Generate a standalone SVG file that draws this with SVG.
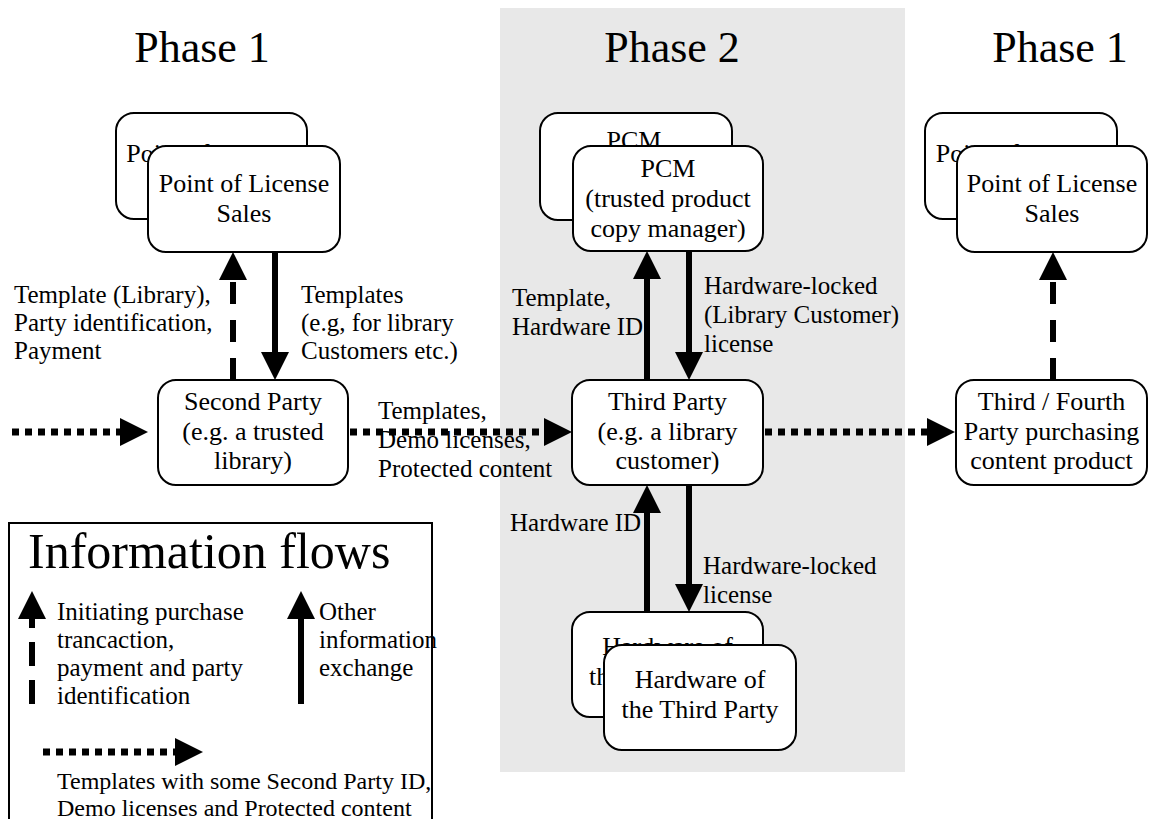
<svg xmlns="http://www.w3.org/2000/svg" width="1149" height="819" viewBox="0 0 1149 819" font-family="'Liberation Serif','Times New Roman',serif">
<style>
text{font-family:"Liberation Serif","Times New Roman",serif;fill:#000}
.t{font-size:44px}
.n{font-size:26px;text-anchor:middle}
.l{font-size:25px}
.s{font-size:24px}
.box{fill:#fff;stroke:#000;stroke-width:2}
.solid{stroke:#000;stroke-width:6;fill:none}
.dash{stroke:#000;stroke-width:6;fill:none;stroke-dasharray:22 16}
.dot{stroke:#000;stroke-width:7;fill:none;stroke-dasharray:7 6}
</style>
<defs>
<marker id="ah" markerUnits="userSpaceOnUse" markerWidth="28" markerHeight="28" viewBox="0 0 28 28" refX="1" refY="14" orient="auto">
<path d="M0,0 L28,14 L0,28 Z" fill="#000"/>
</marker>
</defs>
<rect id="phase2-bg" x="500" y="8" width="405" height="764" fill="#e8e8e8"/>
<g id="titles">
<text class="t" x="202" y="62" text-anchor="middle">Phase 1</text>
<text class="t" x="672" y="62" text-anchor="middle">Phase 2</text>
<text class="t" x="1060" y="62" text-anchor="middle">Phase 1</text>
</g>
<g id="pols-left">
<rect class="box" x="116" y="113" width="191" height="106" rx="18"/>
<text class="n" x="211.5" y="162">Point of License</text>
<text class="n" x="211.5" y="192">Sales</text>
<rect class="box" x="148" y="146" width="192" height="106" rx="18"/>
<text class="n" x="244" y="192">Point of License</text>
<text class="n" x="244" y="222">Sales</text>
</g>
<g id="pcm">
<rect class="box" x="540" y="113" width="192" height="107" rx="18"/>
<text class="n" x="634" y="149">PCM</text>
<rect class="box" x="573" y="146" width="190" height="105" rx="18"/>
<text class="n" x="668" y="177">PCM</text>
<text class="n" x="668" y="207">(trusted product</text>
<text class="n" x="668" y="237">copy manager)</text>
</g>
<g id="pols-right">
<rect class="box" x="925" y="113" width="192" height="106" rx="18"/>
<text class="n" x="1021" y="162">Point of License</text>
<text class="n" x="1021" y="192">Sales</text>
<rect class="box" x="957" y="146" width="190" height="106" rx="18"/>
<text class="n" x="1052" y="192">Point of License</text>
<text class="n" x="1052" y="222">Sales</text>
</g>
<g id="second-party">
<rect class="box" x="158" y="380" width="190" height="105" rx="18"/>
<text class="n" x="253" y="410">Second Party</text>
<text class="n" x="253" y="440">(e.g. a trusted</text>
<text class="n" x="253" y="469">library)</text>
</g>
<g id="third-party">
<rect class="box" x="572" y="380" width="191" height="105" rx="18"/>
<text class="n" x="667.5" y="410">Third Party</text>
<text class="n" x="667.5" y="440">(e.g. a library</text>
<text class="n" x="667.5" y="469">customer)</text>
</g>
<g id="third-fourth-party">
<rect class="box" x="956" y="380" width="191" height="105" rx="18"/>
<text class="n" x="1051.5" y="410">Third / Fourth</text>
<text class="n" x="1051.5" y="440">Party purchasing</text>
<text class="n" x="1051.5" y="469">content product</text>
</g>
<g id="hardware">
<rect class="box" x="572" y="612" width="191" height="105" rx="18"/>
<text class="n" x="667.5" y="655">Hardware of</text>
<text class="n" x="667.5" y="685">the Third Party</text>
<rect class="box" x="604" y="645" width="192" height="105" rx="18"/>
<text class="n" x="700" y="688">Hardware of</text>
<text class="n" x="700" y="718">the Third Party</text>
</g>
<g id="connectors">
<line class="dash" x1="233" y1="380" x2="233" y2="279" marker-end="url(#ah)"/>
<line class="solid" x1="275" y1="252" x2="275" y2="353" marker-end="url(#ah)"/>
<line class="dash" x1="1053" y1="380" x2="1053" y2="279" marker-end="url(#ah)"/>
<line class="solid" x1="647" y1="380" x2="647" y2="278" marker-end="url(#ah)"/>
<line class="solid" x1="689" y1="251" x2="689" y2="353" marker-end="url(#ah)"/>
<line class="solid" x1="647" y1="612" x2="647" y2="512" marker-end="url(#ah)"/>
<line class="solid" x1="689" y1="485" x2="689" y2="585" marker-end="url(#ah)"/>
<line class="dot" x1="12" y1="432" x2="121" y2="432" marker-end="url(#ah)"/>
<line class="dot" x1="350" y1="432" x2="545" y2="432" marker-end="url(#ah)"/>
<line class="dot" x1="765" y1="432" x2="928" y2="432" marker-end="url(#ah)"/>
</g>
<g id="labels">
<text class="l" x="14" y="303">Template (Library),</text>
<text class="l" x="14" y="331">Party identification,</text>
<text class="l" x="14" y="359">Payment</text>
<text class="l" x="301" y="303">Templates</text>
<text class="l" x="301" y="331">(e.g, for library</text>
<text class="l" x="301" y="359">Customers etc.)</text>
<text class="l" x="512" y="306">Template,</text>
<text class="l" x="512" y="335">Hardware ID</text>
<text class="l" x="704" y="294">Hardware-locked</text>
<text class="l" x="704" y="323">(Library Customer)</text>
<text class="l" x="704" y="352">license</text>
<text class="l" x="378" y="419">Templates,</text>
<text class="l" x="378" y="448">Demo licenses,</text>
<text class="l" x="378" y="477">Protected content</text>
<text class="l" x="510" y="531">Hardware ID</text>
<text class="l" x="703" y="574">Hardware-locked</text>
<text class="l" x="703" y="603">license</text>
</g>
<g id="legend">
<rect x="9" y="523" width="423" height="310" fill="#fff" stroke="#000" stroke-width="2"/>
<text x="28" y="568" font-size="50">Information flows</text>
<line class="solid" x1="32" y1="704" x2="32" y2="680"/>
<line class="solid" x1="32" y1="666" x2="32" y2="642"/>
<line class="solid" x1="32" y1="628" x2="32" y2="618" marker-end="url(#ah)"/>
<text class="l" x="57" y="620">Initiating purchase</text>
<text class="l" x="57" y="648">trancaction,</text>
<text class="l" x="57" y="676">payment and party</text>
<text class="l" x="57" y="704">identification</text>
<line class="solid" x1="301" y1="704" x2="301" y2="618" marker-end="url(#ah)"/>
<text class="l" x="319" y="620">Other</text>
<text class="l" x="319" y="648">information</text>
<text class="l" x="319" y="676">exchange</text>
<line class="dot" x1="43" y1="752" x2="176" y2="752" marker-end="url(#ah)"/>
<text class="s" x="57" y="789">Templates with some Second Party ID,</text>
<text class="s" x="57" y="816">Demo licenses and Protected content</text>
</g>
</svg>
